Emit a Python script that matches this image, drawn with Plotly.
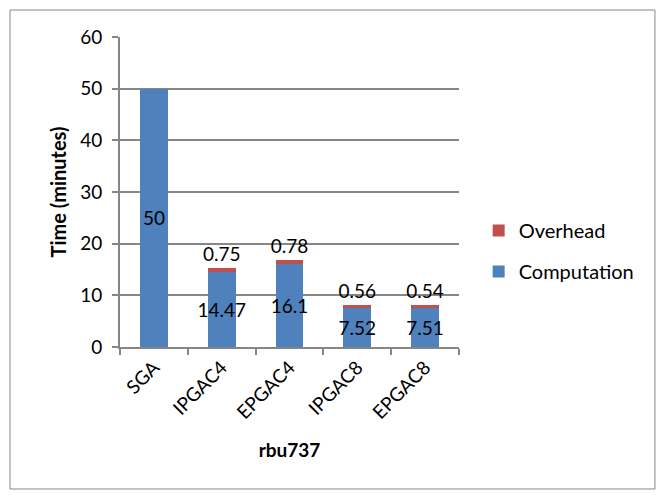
import plotly.graph_objects as go

# Run time breakdown for the rbu737 instance
categories = ["SGA", "IPGAC4", "EPGAC4", "IPGAC8", "EPGAC8"]
computation = [50, 14.47, 16.1, 7.52, 7.51]
overhead = [None, 0.75, 0.78, 0.56, 0.54]

BLUE = "#4F81BD"
RED = "#C0504D"
GRID = "#868686"
FONT = "Lato, Carlito, Calibri, sans-serif"

fig = go.Figure()

fig.add_trace(go.Bar(
    x=categories, y=computation, name="Computation",
    marker=dict(color=BLUE, line=dict(width=0)),
    text=[f"{v:g}" for v in computation],
    textposition="inside", insidetextanchor="middle",
    textangle=0, constraintext="none",
    textfont=dict(family=FONT, size=19, color="#000000"),
    legendgroup="comp", legendrank=2,
))

fig.add_trace(go.Bar(
    x=categories, y=overhead, name="Overhead",
    marker=dict(color=RED, line=dict(width=0)),
    text=[("" if v is None else f"{v:g}") for v in overhead],
    textposition="outside", textangle=0, constraintext="none",
    textfont=dict(family=FONT, size=19, color="#000000"),
    legendgroup="over", legendrank=1,
))

fig.update_layout(
    width=662, height=498,
    barmode="stack", bargap=0.59,
    paper_bgcolor="white", plot_bgcolor="white",
    margin=dict(l=120, r=203, t=37, b=151),
    font=dict(family=FONT, size=19, color="#000000"),
    showlegend=True,
    legend=dict(
        x=1.058, y=0.31, xanchor="left", yanchor="middle",
        traceorder="grouped", tracegroupgap=12,
        font=dict(family=FONT, size=20, color="#000000"),
        itemwidth=30,
    ),
    shapes=[dict(
        type="rect", xref="paper", yref="paper",
        x0=-0.3245, x1=1.578, y0=-0.458, y1=1.087,
        line=dict(color=GRID, width=1), fillcolor="rgba(0,0,0,0)",
        layer="below",
    )],
)

fig.update_yaxes(
    range=[0, 60], dtick=10,
    showgrid=True, gridcolor=GRID, gridwidth=2,
    showline=True, linecolor=GRID, linewidth=2,
    ticks="outside", ticklen=6, tickcolor=GRID, tickwidth=2,
    ticklabelstandoff=6,
    tickfont=dict(family=FONT, size=19),
    zeroline=False,
    title=dict(text="<b>Time (minutes)</b>", font=dict(family=FONT, size=20), standoff=8),
)

fig.update_xaxes(
    showline=True, linecolor=GRID, linewidth=2,
    ticks="outside", ticklen=6, tickcolor=GRID, tickwidth=2,
    tickson="boundaries", tickangle=-45,
    tickfont=dict(family=FONT, size=19),
    title=dict(text="<b>rbu737</b>", font=dict(family=FONT, size=19), standoff=22),
)

fig.write_html("out.html")
